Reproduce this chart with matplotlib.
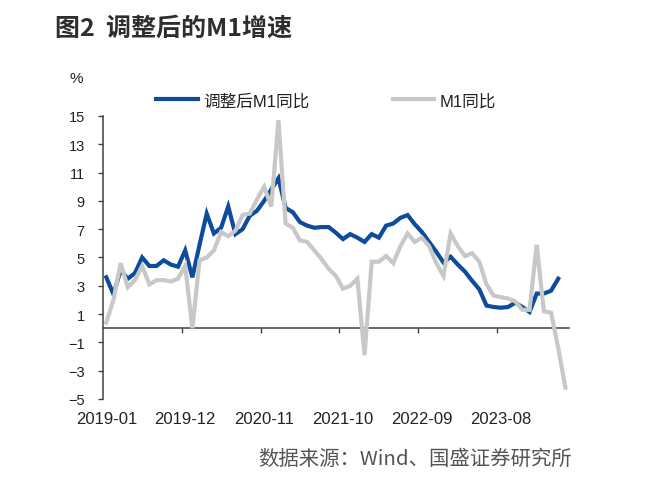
import numpy as np
import pandas as pd
import matplotlib
matplotlib.use("Agg")
import matplotlib.pyplot as plt
from matplotlib.transforms import blended_transform_factory

# ------------------------------
# Data
# ------------------------------
months = pd.date_range("2019-01", periods=65, freq="MS").strftime("%Y-%m").tolist()

# 调整后M1同比, 2019-01 .. 2024-04
adj_m1 = [3.6, 2.4, 4.1, 3.5, 3.9, 5.0, 4.4, 4.4, 4.8, 4.5, 4.35, 5.5,
          3.6, 5.9, 8.1, 6.7, 7.1, 8.6, 6.65, 7.0, 7.95, 8.3, 9.0, 9.8,
          10.6, 8.5, 8.2, 7.5, 7.25, 7.1, 7.15, 7.15, 6.75, 6.3, 6.65, 6.4,
          6.1, 6.65, 6.4, 7.25, 7.4, 7.8, 8.0, 7.35, 6.8, 6.1, 5.4, 4.65,
          5.05, 4.5, 4.0, 3.35, 2.75, 1.6, 1.5, 1.45, 1.5, 1.8, 1.5, 1.15,
          2.45, 2.45, 2.65, 3.5]

# M1同比, 2019-01 .. 2024-05
m1 = [0.4, 2.0, 4.6, 2.9, 3.4, 4.4, 3.1, 3.4, 3.4, 3.3, 3.5, 4.4,
      0.0, 4.8, 5.0, 5.5, 6.8, 6.5, 6.9, 8.0, 8.1, 9.1, 10.0, 8.6,
      14.7, 7.4, 7.1, 6.2, 6.1, 5.5, 4.9, 4.2, 3.7, 2.8, 3.0, 3.5,
      -1.9, 4.7, 4.7, 5.1, 4.6, 5.8, 6.7, 6.1, 6.4, 5.8, 4.6, 3.7,
      6.7, 5.8, 5.1, 5.3, 4.7, 3.1, 2.3, 2.2, 2.1, 1.9, 1.3, 1.3,
      5.9, 1.2, 1.1, -1.4, -4.2]

label_idx = [0, 11, 22, 33, 44, 55]
tick_labels = [months[i] for i in label_idx]
y_ticks = list(range(-5, 16, 2))

# ------------------------------
# Plot
# ------------------------------
latin_cjk = ["Liberation Sans", "Noto Sans CJK SC"]
plt.rcParams["font.family"] = latin_cjk

fig = plt.figure(figsize=(6.6, 4.85), dpi=100)
ax = fig.add_axes([0.1556, 0.1753, 0.7065, 0.5835])

blue = "#0E4B9C"
grey = "#C8C8C8"
ax.plot(np.arange(len(adj_m1)), adj_m1, color=blue, lw=3.0,
        solid_joinstyle="miter", label="调整后M1同比", zorder=3)
ax.plot(np.arange(len(m1)), m1, color=grey, lw=3.0,
        solid_joinstyle="miter", label="M1同比", zorder=4)

ax.set_xlim(-0.5, len(months) - 0.5)
ax.set_ylim(-5, 15)
ax.set_yticks(y_ticks)
ax.tick_params(axis="y", direction="out", length=3.5, width=1, pad=9.5,
               labelsize=10.5, colors="#404040", labelcolor="#222222")

for s in ["top", "right"]:
    ax.spines[s].set_visible(False)
ax.spines["left"].set_color("#404040")
ax.spines["left"].set_linewidth(1.1)
ax.spines["bottom"].set_position(("data", 0))
ax.spines["bottom"].set_color("#404040")
ax.spines["bottom"].set_linewidth(1.1)

# tick marks between categories, labels under the plot area
ax.set_xticks([i - 0.5 for i in label_idx[1:]])
ax.set_xticklabels([])
ax.tick_params(axis="x", direction="out", length=3.8, width=1, colors="#404040")
trans = blended_transform_factory(ax.transData, ax.transAxes)
for i, lab in zip(label_idx, tick_labels):
    ax.text(i, -0.07, lab, transform=trans, ha="center", va="center",
            fontsize=12, color="#222222")

fig.text(76 / 660, 1 - 79 / 485, "%", ha="center", va="center",
         fontsize=11, color="#222222")

fig.legend(loc="center", bbox_to_anchor=(326 / 660, 1 - 101.5 / 485), ncol=2,
           frameon=False, fontsize=12, handlelength=2.5, handletextpad=0.3,
           columnspacing=5.0, borderpad=0, labelcolor="#222222")

fig.text(55 / 660, 1 - 28.5 / 485, "图2  调整后的M1增速", ha="left", va="center",
         fontsize=18, fontweight="bold", color="#2E2E2E",
         family=["Noto Sans CJK SC", "DejaVu Sans"])
fig.text(572 / 660, 1 - 459 / 485, "数据来源：Wind、国盛证券研究所", ha="right",
         va="center", fontsize=14.7, color="#555555",
         family=["Noto Sans CJK SC", "DejaVu Sans"])

fig.savefig("out.png", dpi=100)
